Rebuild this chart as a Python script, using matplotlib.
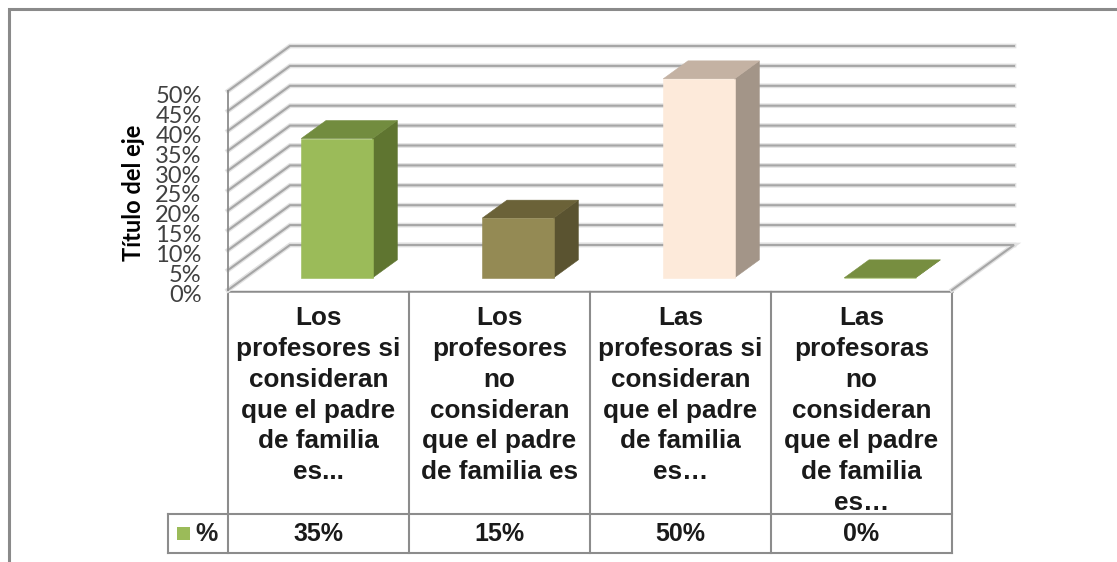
import matplotlib
matplotlib.use("Agg")
import matplotlib.pyplot as plt
from matplotlib.patches import Polygon, Rectangle
from matplotlib.transforms import ScaledTranslation

categories = [
    "Los\nprofesores si\nconsideran\nque el padre\nde familia\nes...",
    "Los\nprofesores\nno\nconsideran\nque el padre\nde familia es",
    "Las\nprofesoras si\nconsideran\nque el padre\nde familia\nes…",
    "Las\nprofesoras\nno\nconsideran\nque el padre\nde familia\nes…",
]
values = [35, 15, 50, 0]
value_labels = ["35%", "15%", "50%", "0%"]
ticks = [0, 5, 10, 15, 20, 25, 30, 35, 40, 45, 50]
series_name = "%"
axis_title = "Título del eje"

# front, side, top colours per bar
bar_colors = [
    ("#9bbb59", "#5f7530", "#728c3f"),
    ("#948a54", "#5a5330", "#6b6238"),
    ("#fdeada", "#a39588", "#c4b2a3"),
    ("#9bbb59", "#5f7530", "#778e40"),
]
grid_color = "#a6a6a6"
halo_color = "#e2e2e2"
line_color = "#8c8c8c"

W, H = 1117, 562
fig = plt.figure(figsize=(W / 100, H / 100), dpi=100, facecolor="white")

# page axes in pixels, for the outer frame and the data table
page = fig.add_axes([0, 0, 1, 1])
page.set_xlim(0, W)
page.set_ylim(H, 0)
page.axis("off")

# chart axes: front plane of the 3d box
left, right, bottom, top = 228, 952, 290, 91
ax = fig.add_axes([left / W, 1 - bottom / H, (right - left) / W, (bottom - top) / H])
ax.set_xlim(0, len(values))
ax.set_ylim(0, 50)
ax.patch.set_alpha(0)
for s in ["top", "right", "bottom"]:
    ax.spines[s].set_visible(False)
ax.spines["left"].set_color(line_color)
ax.spines["left"].set_linewidth(1.3)
ax.set_xticks([])
ax.set_yticks(ticks)
ax.set_yticklabels([str(t) + "%" for t in ticks], fontfamily="Lato", fontsize=17, color="#404040")
ax.tick_params(axis="y", length=0, pad=19)
# labels sit a little lower than the tick position
shift = ScaledTranslation(0, -2.5 / 72, fig.dpi_scale_trans)
for lab in ax.get_yticklabels():
    lab.set_transform(lab.get_transform() + shift)
ax.set_ylabel(axis_title, fontfamily="Lato", fontweight="bold", fontsize=17, color="black")
ax.yaxis.set_label_coords((145 - left) / (right - left), (bottom - 193) / (bottom - top))

# depth of the box, in axis units
depth_x = 62 / ((right - left) / len(values))
depth_y = 45 / ((bottom - top) / 50)


def project(x, v, d):
    return (x + d * depth_x, v + d * depth_y)


def soft_line(pts, z):
    ax.plot(*zip(*pts), color=halo_color, lw=3.4, clip_on=False, zorder=z, solid_joinstyle="miter")
    ax.plot(*zip(*pts), color=grid_color, lw=1.5, clip_on=False, zorder=z + 0.05, solid_joinstyle="miter")


# walls and gridlines
for t in ticks:
    soft_line([project(0, t, 0), project(0, t, 1), project(len(values), t, 1)], 1)
floor = [project(0, 0, 0), project(0, 0, 1), project(len(values), 0, 1), project(len(values), 0, 0)]
ax.fill(*zip(*floor), color="white", clip_on=False, zorder=1.2)
soft_line(floor, 1.3)

# bars
d0, d1 = 0.27, 0.67
half = 0.197
bar_shift = 0.009
for i, v in enumerate(values):
    x0, x1 = i + 0.5 - half + bar_shift, i + 0.5 + half + bar_shift
    front_c, side_c, top_c = bar_colors[i]
    front = [project(x0, 0, d0), project(x1, 0, d0), project(x1, v, d0), project(x0, v, d0)]
    side = [project(x1, 0, d0), project(x1, 0, d1), project(x1, v, d1), project(x1, v, d0)]
    lid = [project(x0, v, d0), project(x1, v, d0), project(x1, v, d1), project(x0, v, d1)]
    for poly, c in [(side, side_c), (lid, top_c), (front, front_c)]:
        ax.add_patch(Polygon(poly, closed=True, facecolor=c, edgecolor=c, lw=0.4, clip_on=False, zorder=3))

# outer frame, open on the right
page.plot([9, 9, W], [H, 9, 9], color="#8a8a8a", lw=2.2, solid_joinstyle="miter")

# data table
cols = [left + i * (right - left) / len(values) for i in range(len(values) + 1)]
row_top, row_bottom = 514, 553
tbl_left = 168
page.plot([left, right], [291, 291], color=line_color, lw=1.8)
for c in cols:
    page.plot([c, c], [291, row_bottom], color=line_color, lw=1.5)
page.plot([tbl_left, right], [row_top, row_top], color=line_color, lw=1.5)
page.plot([tbl_left, right], [row_bottom, row_bottom], color=line_color, lw=1.5)
page.plot([tbl_left, tbl_left], [row_top, row_bottom], color=line_color, lw=1.5)
page.add_patch(Rectangle((177, 527), 13, 13, facecolor="#9bbb59", edgecolor="none"))
page.text(207, 534, series_name, ha="center", va="center", fontfamily="Liberation Sans",
          fontweight="bold", fontsize=18, color="#222222")
for i, cat in enumerate(categories):
    cx = (cols[i] + cols[i + 1]) / 2
    page.text(cx, 306, cat, ha="center", va="top", fontfamily="Liberation Sans", fontweight="bold",
              fontsize=18.8, color="#1a1a1a", linespacing=1.36)
    page.text(cx, 534, value_labels[i], ha="center", va="center", fontfamily="Liberation Sans",
              fontweight="bold", fontsize=18, color="#1a1a1a")

fig.savefig("out.png", dpi=100, facecolor="white")
